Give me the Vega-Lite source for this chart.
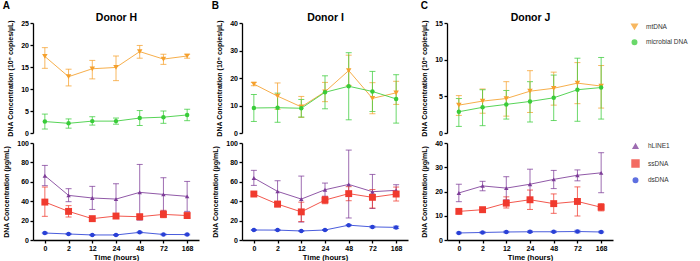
{
"$schema":"https://vega.github.io/schema/vega-lite/v6.json",
"padding":{"left":2,"top":1,"right":1,"bottom":2},
"datasets":{
"top":[
{"d":"H","s":"mtDNA","t":"0","m":17.4,"lo":14.7,"hi":19.4},
{"d":"H","s":"mtDNA","t":"2","m":12.8,"lo":10.7,"hi":14.5},
{"d":"H","s":"mtDNA","t":"12","m":14.6,"lo":12.3,"hi":16.5},
{"d":"H","s":"mtDNA","t":"24","m":14.9,"lo":11.9,"hi":17.5},
{"d":"H","s":"mtDNA","t":"48","m":18.5,"lo":17.0,"hi":19.9},
{"d":"H","s":"mtDNA","t":"72","m":16.8,"lo":15.6,"hi":17.9},
{"d":"H","s":"mtDNA","t":"168","m":17.5,"lo":17.0,"hi":17.9},
{"d":"H","s":"microbial DNA","t":"0","m":2.6,"lo":0.9,"hi":4.3},
{"d":"H","s":"microbial DNA","t":"2","m":2.2,"lo":1.1,"hi":3.2},
{"d":"H","s":"microbial DNA","t":"12","m":2.7,"lo":1.8,"hi":3.7},
{"d":"H","s":"microbial DNA","t":"24","m":2.7,"lo":2.0,"hi":3.4},
{"d":"H","s":"microbial DNA","t":"48","m":3.4,"lo":1.7,"hi":5.1},
{"d":"H","s":"microbial DNA","t":"72","m":3.6,"lo":2.2,"hi":5.0},
{"d":"H","s":"microbial DNA","t":"168","m":4.1,"lo":2.8,"hi":5.4},
{"d":"I","s":"mtDNA","t":"0","m":17.8,"lo":17.2,"hi":18.4},
{"d":"I","s":"mtDNA","t":"2","m":13.4,"lo":8.6,"hi":18.2},
{"d":"I","s":"mtDNA","t":"12","m":9.5,"lo":5.7,"hi":13.3},
{"d":"I","s":"mtDNA","t":"24","m":15.0,"lo":11.4,"hi":18.4},
{"d":"I","s":"mtDNA","t":"48","m":22.7,"lo":17.3,"hi":28.3},
{"d":"I","s":"mtDNA","t":"72","m":12.6,"lo":7.0,"hi":18.3},
{"d":"I","s":"mtDNA","t":"168","m":14.6,"lo":10.4,"hi":18.8},
{"d":"I","s":"microbial DNA","t":"0","m":9.1,"lo":4.2,"hi":14.0},
{"d":"I","s":"microbial DNA","t":"2","m":9.2,"lo":3.9,"hi":14.5},
{"d":"I","s":"microbial DNA","t":"12","m":9.0,"lo":5.8,"hi":12.2},
{"d":"I","s":"microbial DNA","t":"24","m":14.8,"lo":8.8,"hi":20.8},
{"d":"I","s":"microbial DNA","t":"48","m":17.0,"lo":4.8,"hi":29.2},
{"d":"I","s":"microbial DNA","t":"72","m":15.1,"lo":7.8,"hi":22.4},
{"d":"I","s":"microbial DNA","t":"168","m":12.4,"lo":3.6,"hi":21.2},
{"d":"J","s":"mtDNA","t":"0","m":3.8,"lo":2.4,"hi":5.1},
{"d":"J","s":"mtDNA","t":"2","m":4.35,"lo":2.7,"hi":6.0},
{"d":"J","s":"mtDNA","t":"12","m":4.7,"lo":2.3,"hi":7.0},
{"d":"J","s":"mtDNA","t":"24","m":5.7,"lo":2.8,"hi":8.5},
{"d":"J","s":"mtDNA","t":"48","m":6.1,"lo":3.8,"hi":8.3},
{"d":"J","s":"mtDNA","t":"72","m":6.8,"lo":4.0,"hi":9.6},
{"d":"J","s":"mtDNA","t":"168","m":6.4,"lo":3.4,"hi":9.2},
{"d":"J","s":"microbial DNA","t":"0","m":2.9,"lo":0.9,"hi":4.7},
{"d":"J","s":"microbial DNA","t":"2","m":3.5,"lo":1.0,"hi":5.9},
{"d":"J","s":"microbial DNA","t":"12","m":3.9,"lo":1.9,"hi":5.8},
{"d":"J","s":"microbial DNA","t":"24","m":4.3,"lo":1.5,"hi":7.0},
{"d":"J","s":"microbial DNA","t":"48","m":4.8,"lo":1.7,"hi":7.9},
{"d":"J","s":"microbial DNA","t":"72","m":5.9,"lo":1.6,"hi":10.2},
{"d":"J","s":"microbial DNA","t":"168","m":6.2,"lo":1.9,"hi":10.3}
],
"bot":[
{"d":"H","s":"hLINE1","t":"0","m":66.3,"lo":56.0,"hi":76.9},
{"d":"H","s":"hLINE1","t":"2","m":46.0,"lo":39.5,"hi":52.9},
{"d":"H","s":"hLINE1","t":"12","m":43.3,"lo":31.5,"hi":55.3},
{"d":"H","s":"hLINE1","t":"24","m":42.2,"lo":26.5,"hi":58.0},
{"d":"H","s":"hLINE1","t":"48","m":49.1,"lo":20.5,"hi":77.9},
{"d":"H","s":"hLINE1","t":"72","m":47.0,"lo":30.0,"hi":64.2},
{"d":"H","s":"hLINE1","t":"168","m":45.0,"lo":29.5,"hi":60.4},
{"d":"H","s":"ssDNA","t":"0","m":39.1,"lo":24.4,"hi":54.6},
{"d":"H","s":"ssDNA","t":"2","m":29.5,"lo":23.7,"hi":35.4},
{"d":"H","s":"ssDNA","t":"12","m":22.0,"lo":20.5,"hi":23.5},
{"d":"H","s":"ssDNA","t":"24","m":24.7,"lo":22.5,"hi":26.5},
{"d":"H","s":"ssDNA","t":"48","m":24.0,"lo":21.0,"hi":26.5},
{"d":"H","s":"ssDNA","t":"72","m":26.4,"lo":23.0,"hi":30.6},
{"d":"H","s":"ssDNA","t":"168","m":25.2,"lo":22.8,"hi":27.6},
{"d":"H","s":"dsDNA","t":"0","m":7.2,"lo":6.5,"hi":7.9},
{"d":"H","s":"dsDNA","t":"2","m":6.2,"lo":5.6,"hi":6.8},
{"d":"H","s":"dsDNA","t":"12","m":5.2,"lo":4.8,"hi":5.6},
{"d":"H","s":"dsDNA","t":"24","m":5.2,"lo":4.8,"hi":5.6},
{"d":"H","s":"dsDNA","t":"48","m":7.9,"lo":7.3,"hi":8.5},
{"d":"H","s":"dsDNA","t":"72","m":5.7,"lo":5.2,"hi":6.2},
{"d":"H","s":"dsDNA","t":"168","m":5.6,"lo":5.1,"hi":6.1},
{"d":"I","s":"hLINE1","t":"0","m":63.9,"lo":56.3,"hi":71.8},
{"d":"I","s":"hLINE1","t":"2","m":50.1,"lo":38.5,"hi":61.1},
{"d":"I","s":"hLINE1","t":"12","m":42.2,"lo":18.5,"hi":65.9},
{"d":"I","s":"hLINE1","t":"24","m":51.8,"lo":45.0,"hi":58.7},
{"d":"I","s":"hLINE1","t":"48","m":57.3,"lo":22.7,"hi":92.7},
{"d":"I","s":"hLINE1","t":"72","m":49.8,"lo":32.5,"hi":67.6},
{"d":"I","s":"hLINE1","t":"168","m":51.2,"lo":46.0,"hi":57.0},
{"d":"I","s":"ssDNA","t":"0","m":47.4,"lo":46.0,"hi":48.8},
{"d":"I","s":"ssDNA","t":"2","m":37.0,"lo":34.3,"hi":39.8},
{"d":"I","s":"ssDNA","t":"12","m":29.0,"lo":19.0,"hi":39.0},
{"d":"I","s":"ssDNA","t":"24","m":41.2,"lo":37.4,"hi":45.0},
{"d":"I","s":"ssDNA","t":"48","m":47.8,"lo":40.5,"hi":55.0},
{"d":"I","s":"ssDNA","t":"72","m":44.0,"lo":33.0,"hi":52.0},
{"d":"I","s":"ssDNA","t":"168","m":47.4,"lo":40.2,"hi":54.6},
{"d":"I","s":"dsDNA","t":"0","m":10.3,"lo":9.8,"hi":10.8},
{"d":"I","s":"dsDNA","t":"2","m":10.2,"lo":9.7,"hi":10.7},
{"d":"I","s":"dsDNA","t":"12","m":9.3,"lo":8.8,"hi":9.8},
{"d":"I","s":"dsDNA","t":"24","m":10.3,"lo":9.8,"hi":10.8},
{"d":"I","s":"dsDNA","t":"48","m":15.3,"lo":14.7,"hi":15.9},
{"d":"I","s":"dsDNA","t":"72","m":13.5,"lo":12.7,"hi":14.3},
{"d":"I","s":"dsDNA","t":"168","m":13.0,"lo":11.8,"hi":14.2},
{"d":"J","s":"hLINE1","t":"0","m":19.4,"lo":15.8,"hi":23.0},
{"d":"J","s":"hLINE1","t":"2","m":22.3,"lo":20.3,"hi":24.2},
{"d":"J","s":"hLINE1","t":"12","m":21.4,"lo":16.6,"hi":26.1},
{"d":"J","s":"hLINE1","t":"24","m":23.0,"lo":17.0,"hi":29.2},
{"d":"J","s":"hLINE1","t":"48","m":25.0,"lo":21.2,"hi":28.7},
{"d":"J","s":"hLINE1","t":"72","m":26.7,"lo":24.4,"hi":28.9},
{"d":"J","s":"hLINE1","t":"168","m":27.7,"lo":19.5,"hi":36.0},
{"d":"J","s":"ssDNA","t":"0","m":11.8,"lo":11.0,"hi":12.6},
{"d":"J","s":"ssDNA","t":"2","m":12.5,"lo":11.8,"hi":13.2},
{"d":"J","s":"ssDNA","t":"12","m":15.2,"lo":13.2,"hi":17.8},
{"d":"J","s":"ssDNA","t":"24","m":16.6,"lo":12.6,"hi":20.6},
{"d":"J","s":"ssDNA","t":"48","m":15.0,"lo":11.0,"hi":19.0},
{"d":"J","s":"ssDNA","t":"72","m":15.9,"lo":9.9,"hi":21.9},
{"d":"J","s":"ssDNA","t":"168","m":13.5,"lo":12.0,"hi":15.0},
{"d":"J","s":"dsDNA","t":"0","m":2.9,"lo":2.6,"hi":3.2},
{"d":"J","s":"dsDNA","t":"2","m":3.1,"lo":2.8,"hi":3.4},
{"d":"J","s":"dsDNA","t":"12","m":3.3,"lo":3.0,"hi":3.6},
{"d":"J","s":"dsDNA","t":"24","m":3.4,"lo":3.1,"hi":3.7},
{"d":"J","s":"dsDNA","t":"48","m":3.4,"lo":3.1,"hi":3.7},
{"d":"J","s":"dsDNA","t":"72","m":3.5,"lo":3.0,"hi":4.0},
{"d":"J","s":"dsDNA","t":"168","m":3.3,"lo":3.0,"hi":3.6}
]
},
"spacing":12,
"resolve":{"scale":{"color":"independent","shape":"independent","size":"independent","x":"independent","y":"independent"}},
"hconcat":[
{"title":{"text":"A"},"spacing":10,"bounds":"flush",
 "resolve":{"scale":{"color":"independent","shape":"independent","size":"independent","y":"independent"}},
 "vconcat":[
 {"width":166,"height":110,"data":{"name":"top"},"transform":[{"filter":"datum.d==='H'"}],
  "encoding":{"x":{"field":"t","type":"ordinal","scale":{"type":"point","domain":["0","2","12","24","48","72","168"],"padding":0.5},"axis":{"orient":"top","title":"Donor H","labels":false,"ticks":false,"domain":false,"titleFontSize":10.5,"titlePadding":1}},
   "color":{"field":"s","type":"nominal","scale":{"domain":["mtDNA","microbial DNA"],"range":["#F5A02C","#39CC39"]},"legend":null}},
  "layer":[
   {"mark":{"type":"errorbar","ticks":true,"size":6,"thickness":1,"opacity":0.75},"encoding":{"y":{"field":"lo","type":"quantitative","scale":{"domain":[0,25],"nice":false},"axis":{"values":[0,5,10,15,20,25],"title":"DNA Concentration (10⁵ copies/µL)"}},"y2":{"field":"hi"}}},
   {"mark":{"type":"line","strokeWidth":1,"opacity":0.85},"encoding":{"y":{"field":"m","type":"quantitative","scale":{"domain":[0,25],"nice":false},"axis":{"values":[0,5,10,15,20,25],"title":"DNA Concentration (10⁵ copies/µL)"}}}},
   {"mark":{"type":"point","filled":true,"opacity":1},"encoding":{"y":{"field":"m","type":"quantitative","scale":{"domain":[0,25],"nice":false},"axis":{"values":[0,5,10,15,20,25],"title":"DNA Concentration (10⁵ copies/µL)"}},
     "shape":{"field":"s","type":"nominal","scale":{"domain":["mtDNA","microbial DNA"],"range":["triangle-down","circle"]},"legend":null},
     "size":{"field":"s","type":"nominal","scale":{"type":"ordinal","domain":["mtDNA","microbial DNA"],"range":[30,20]},"legend":null}}}
  ]},
 {"width":166,"height":97,"data":{"name":"bot"},"transform":[{"filter":"datum.d==='H'"}],
  "encoding":{"x":{"field":"t","type":"ordinal","scale":{"type":"point","domain":["0","2","12","24","48","72","168"],"padding":0.5},"axis":{"title":"Time (hours)"}},
   "color":{"field":"s","type":"nominal","scale":{"domain":["hLINE1","ssDNA","dsDNA"],"range":["#7D3C98","#F03A2E","#2940D6"]},"legend":null}},
  "layer":[
   {"mark":{"type":"errorbar","ticks":true,"size":6,"thickness":1,"opacity":0.75},"encoding":{"y":{"field":"lo","type":"quantitative","scale":{"domain":[0,100],"nice":false},"axis":{"values":[0,20,40,60,80,100],"title":"DNA Concentration (µg/mL)"}},"y2":{"field":"hi"}}},
   {"mark":{"type":"line","strokeWidth":1,"opacity":0.85},"encoding":{"y":{"field":"m","type":"quantitative","scale":{"domain":[0,100],"nice":false},"axis":{"values":[0,20,40,60,80,100],"title":"DNA Concentration (µg/mL)"}}}},
   {"mark":{"type":"point","filled":true,"opacity":1},"encoding":{"y":{"field":"m","type":"quantitative","scale":{"domain":[0,100],"nice":false},"axis":{"values":[0,20,40,60,80,100],"title":"DNA Concentration (µg/mL)"}},
     "shape":{"field":"s","type":"nominal","scale":{"domain":["hLINE1","ssDNA","dsDNA"],"range":["triangle-up","square","circle"]},"legend":null},
     "size":{"field":"s","type":"nominal","scale":{"type":"ordinal","domain":["hLINE1","ssDNA","dsDNA"],"range":[20,48,20]},"legend":null}}}
  ]}
 ]},
{"title":{"text":"B"},"spacing":10,"bounds":"flush",
 "resolve":{"scale":{"color":"independent","shape":"independent","size":"independent","y":"independent"}},
 "vconcat":[
 {"width":166,"height":110,"data":{"name":"top"},"transform":[{"filter":"datum.d==='I'"}],
  "encoding":{"x":{"field":"t","type":"ordinal","scale":{"type":"point","domain":["0","2","12","24","48","72","168"],"padding":0.5},"axis":{"orient":"top","title":"Donor I","labels":false,"ticks":false,"domain":false,"titleFontSize":10.5,"titlePadding":1}},
   "color":{"field":"s","type":"nominal","scale":{"domain":["mtDNA","microbial DNA"],"range":["#F5A02C","#39CC39"]},"legend":null}},
  "layer":[
   {"mark":{"type":"errorbar","ticks":true,"size":6,"thickness":1,"opacity":0.75},"encoding":{"y":{"field":"lo","type":"quantitative","scale":{"domain":[0,40],"nice":false},"axis":{"values":[0,10,20,30,40],"title":"DNA Concentration (10⁵ copies/µL)"}},"y2":{"field":"hi"}}},
   {"mark":{"type":"line","strokeWidth":1,"opacity":0.85},"encoding":{"y":{"field":"m","type":"quantitative","scale":{"domain":[0,40],"nice":false},"axis":{"values":[0,10,20,30,40],"title":"DNA Concentration (10⁵ copies/µL)"}}}},
   {"mark":{"type":"point","filled":true,"opacity":1},"encoding":{"y":{"field":"m","type":"quantitative","scale":{"domain":[0,40],"nice":false},"axis":{"values":[0,10,20,30,40],"title":"DNA Concentration (10⁵ copies/µL)"}},
     "shape":{"field":"s","type":"nominal","scale":{"domain":["mtDNA","microbial DNA"],"range":["triangle-down","circle"]},"legend":null},
     "size":{"field":"s","type":"nominal","scale":{"type":"ordinal","domain":["mtDNA","microbial DNA"],"range":[30,20]},"legend":null}}}
  ]},
 {"width":166,"height":97,"data":{"name":"bot"},"transform":[{"filter":"datum.d==='I'"}],
  "encoding":{"x":{"field":"t","type":"ordinal","scale":{"type":"point","domain":["0","2","12","24","48","72","168"],"padding":0.5},"axis":{"title":"Time (hours)"}},
   "color":{"field":"s","type":"nominal","scale":{"domain":["hLINE1","ssDNA","dsDNA"],"range":["#7D3C98","#F03A2E","#2940D6"]},"legend":null}},
  "layer":[
   {"mark":{"type":"errorbar","ticks":true,"size":6,"thickness":1,"opacity":0.75},"encoding":{"y":{"field":"lo","type":"quantitative","scale":{"domain":[0,100],"nice":false},"axis":{"values":[0,20,40,60,80,100],"title":"DNA Concentration (µg/mL)"}},"y2":{"field":"hi"}}},
   {"mark":{"type":"line","strokeWidth":1,"opacity":0.85},"encoding":{"y":{"field":"m","type":"quantitative","scale":{"domain":[0,100],"nice":false},"axis":{"values":[0,20,40,60,80,100],"title":"DNA Concentration (µg/mL)"}}}},
   {"mark":{"type":"point","filled":true,"opacity":1},"encoding":{"y":{"field":"m","type":"quantitative","scale":{"domain":[0,100],"nice":false},"axis":{"values":[0,20,40,60,80,100],"title":"DNA Concentration (µg/mL)"}},
     "shape":{"field":"s","type":"nominal","scale":{"domain":["hLINE1","ssDNA","dsDNA"],"range":["triangle-up","square","circle"]},"legend":null},
     "size":{"field":"s","type":"nominal","scale":{"type":"ordinal","domain":["hLINE1","ssDNA","dsDNA"],"range":[20,48,20]},"legend":null}}}
  ]}
 ]},
{"title":{"text":"C"},"spacing":10,"bounds":"flush",
 "resolve":{"scale":{"color":"independent","shape":"independent","size":"independent","y":"independent"}},
 "vconcat":[
 {"width":166,"height":110,"data":{"name":"top"},"transform":[{"filter":"datum.d==='J'"}],
  "encoding":{"x":{"field":"t","type":"ordinal","scale":{"type":"point","domain":["0","2","12","24","48","72","168"],"padding":0.5},"axis":{"orient":"top","title":"Donor J","labels":false,"ticks":false,"domain":false,"titleFontSize":10.5,"titlePadding":1}},
   "color":{"field":"s","type":"nominal","scale":{"domain":["mtDNA","microbial DNA"],"range":["#F5A02C","#39CC39"]},"legend":{"title":null}}},
  "layer":[
   {"mark":{"type":"errorbar","ticks":true,"size":6,"thickness":1,"opacity":0.75},"encoding":{"y":{"field":"lo","type":"quantitative","scale":{"domain":[0,15],"nice":false},"axis":{"values":[0,5,10,15],"title":"DNA Concentration (10⁵ copies/µL)"}},"y2":{"field":"hi"}}},
   {"mark":{"type":"line","strokeWidth":1,"opacity":0.85},"encoding":{"y":{"field":"m","type":"quantitative","scale":{"domain":[0,15],"nice":false},"axis":{"values":[0,5,10,15],"title":"DNA Concentration (10⁵ copies/µL)"}}}},
   {"mark":{"type":"point","filled":true,"opacity":1},"encoding":{"y":{"field":"m","type":"quantitative","scale":{"domain":[0,15],"nice":false},"axis":{"values":[0,5,10,15],"title":"DNA Concentration (10⁵ copies/µL)"}},
     "shape":{"field":"s","type":"nominal","scale":{"domain":["mtDNA","microbial DNA"],"range":["triangle-down","circle"]},"legend":{"title":null}},
     "size":{"field":"s","type":"nominal","scale":{"type":"ordinal","domain":["mtDNA","microbial DNA"],"range":[30,20]},"legend":null}}}
  ]},
 {"width":166,"height":97,"data":{"name":"bot"},"transform":[{"filter":"datum.d==='J'"}],
  "encoding":{"x":{"field":"t","type":"ordinal","scale":{"type":"point","domain":["0","2","12","24","48","72","168"],"padding":0.5},"axis":{"title":"Time (hours)"}},
   "color":{"field":"s","type":"nominal","scale":{"domain":["hLINE1","ssDNA","dsDNA"],"range":["#7D3C98","#F03A2E","#2940D6"]},"legend":{"title":null}}},
  "layer":[
   {"mark":{"type":"errorbar","ticks":true,"size":6,"thickness":1,"opacity":0.75},"encoding":{"y":{"field":"lo","type":"quantitative","scale":{"domain":[0,40],"nice":false},"axis":{"values":[0,10,20,30,40],"title":"DNA Concentration (µg/mL)"}},"y2":{"field":"hi"}}},
   {"mark":{"type":"line","strokeWidth":1,"opacity":0.85},"encoding":{"y":{"field":"m","type":"quantitative","scale":{"domain":[0,40],"nice":false},"axis":{"values":[0,10,20,30,40],"title":"DNA Concentration (µg/mL)"}}}},
   {"mark":{"type":"point","filled":true,"opacity":1},"encoding":{"y":{"field":"m","type":"quantitative","scale":{"domain":[0,40],"nice":false},"axis":{"values":[0,10,20,30,40],"title":"DNA Concentration (µg/mL)"}},
     "shape":{"field":"s","type":"nominal","scale":{"domain":["hLINE1","ssDNA","dsDNA"],"range":["triangle-up","square","circle"]},"legend":{"title":null}},
     "size":{"field":"s","type":"nominal","scale":{"type":"ordinal","domain":["hLINE1","ssDNA","dsDNA"],"range":[20,48,20]},"legend":null}}}
  ]}
 ]}
],
"config":{
 "font":"Liberation Sans",
 "view":{"stroke":null},
 "axis":{"domainColor":"#000","domainWidth":1.3,"tickColor":"#000","tickWidth":1.3,"tickSize":3,"labelFont":"Liberation Sans","labelFontWeight":"bold","labelFontSize":7,"labelColor":"#000","labelPadding":1.5,"titleFont":"Liberation Sans","titleFontWeight":"bold","titleFontSize":7,"titleColor":"#000","grid":false},
 "axisY":{"titlePadding":7},
 "axisX":{"titleFontSize":7.5,"titlePadding":2,"labelAngle":0},
 "title":{"font":"Liberation Sans","fontWeight":"bold","fontSize":10,"anchor":"start","frame":"bounds","offset":1,"color":"#000"},
 "legend":{"labelFont":"Liberation Sans","labelFontSize":6.5,"labelColor":"#333","rowPadding":5,"labelOffset":8,"symbolSize":30}
}
}
